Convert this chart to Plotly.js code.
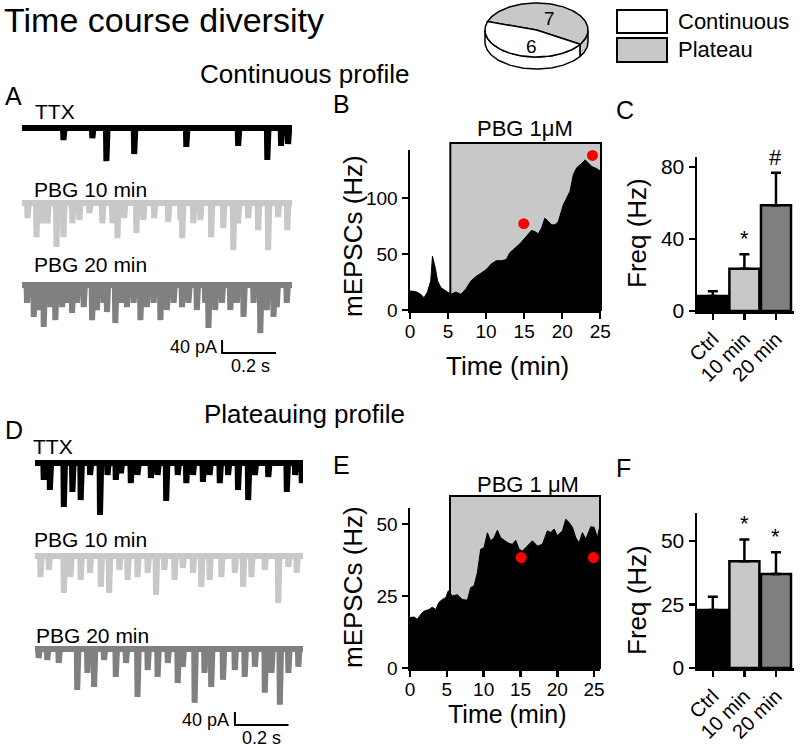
<!DOCTYPE html>
<html><head><meta charset="utf-8">
<script src="https://cdn.plot.ly/plotly-3.0.1.min.js"></script>
<style>html,body{margin:0;padding:0;background:#fff}#chart{width:800px;height:750px}</style>
</head><body><div id="chart"></div>
<script>
// ---------------- DATA ----------------
// Pie: number of cells per time-course profile
const pieLabels = ['Continuous', 'Plateau'];
const pieValues = [6, 7];

// Example sweeps: event times (ms) and amplitudes (pA)
const A_ttx_t  = [152, 259, 311, 414, 607, 799, 907, 958, 984];
const A_ttx_a  = [37, 31, 102, 80, 58, 55, 98, 55, 49];
const A_p10_t  = [19,52,74,93,126,152,185,211,248,296,333,352,377,422,448,488,540,585,592,633,659,699,744,781,799,836,873,910,947,981];
const A_p10_a  = [46,105,62,62,135,105,62,52,31,62,62,108,46,92,52,46,58,52,108,62,52,105,77,145,62,46,83,145,43,83];
const A_p20_t  = [17,42,57,79,104,122,147,165,184,202,227,258,276,301,313,344,369,387,412,437,461,486,511,535,560,591,615,646,677,689,714,739,770,794,819,856,881,905,930,942,979];
const A_p20_a  = [55,98,77,129,68,108,68,55,86,55,68,108,77,55,83,117,55,68,55,108,68,55,108,77,55,68,55,77,55,132,77,55,77,55,98,55,148,77,98,68,55];

const D_ttx_t  = [31,54,106,138,169,204,241,269,300,319,356,381,431,456,488,531,563,588,625,650,688,719,756,794,819,869,938,969,994];
const D_ttx_a  = [52,83,135,89,114,37,160,37,52,31,62,37,46,37,117,37,62,37,58,37,62,37,83,114,37,43,89,37,62];
const D_p10_t  = [19,50,106,131,169,204,244,275,313,344,381,419,450,481,519,550,588,619,650,694,744,775,806,856,906,944,975];
const D_p10_a  = [65,43,114,65,74,52,95,114,43,74,65,52,120,43,74,37,52,95,74,65,52,95,65,43,145,34,52];
const D_p20_t  = [12,44,87,156,194,219,256,300,338,381,419,456,494,531,550,594,631,656,700,744,781,819,856,881,912,944,981];
const D_p20_a  = [28,34,43,126,74,117,34,86,43,148,65,86,43,105,55,166,74,117,95,65,86,55,135,74,172,74,55];

const scaleBarPA = 40;   // pA
const scaleBarMS = 200;  // ms

// Time course of mEPSC frequency
const B_time = [0,0.75,1.41,1.85,2.29,2.73,2.95,3.31,3.62,4.06,4.72,5.38,6.04,6.70,7.36,8.02,8.69,9.35,10.01,10.67,11.33,11.99,12.65,13.1,13.76,14.42,15.08,15.52,15.96,16.4,16.84,17.28,17.72,18.17,18.6,19.05,19.49,20.15,20.59,21.03,21.47,21.91,22.58,23.02,23.46,23.9,24.56,25.0];
const B_rate = [17,16.5,14,11,16,26,48,38,26,20,17,14,16,14,19,26,30,33,36,41,44,44,45,51,55,59,64,68,71,70,68,73,82,79,76,76,79,94,100,106,121,127,131,134,131,128,126,124];
const B_dot_t = [14.95, 23.98];
const B_dot_r = [77, 138];
const B_drugStart = 5.3;

const E_time = [0,0.54,1.0,1.45,1.90,2.58,3.03,3.49,3.94,4.39,4.85,5.21,5.75,6.43,7.11,7.79,8.24,8.70,9.15,9.60,10.05,10.51,10.96,11.41,11.87,12.32,12.91,13.45,13.9,14.36,14.81,15.26,15.94,16.62,17.3,17.98,18.66,19.11,19.57,20.02,20.7,21.15,21.6,22.06,22.51,22.96,23.41,23.87,24.55,25.0,25.45,25.68];
const E_rate = [17.5,17.7,16.9,18.6,19.7,20.3,21.1,20.3,22.8,23.8,24.4,26.8,25.0,25.4,23.8,23.5,27.9,28.5,33.1,41.2,41.7,46.9,44.1,45.2,47.8,45.2,44.1,43.2,42.9,44.3,41.2,40.6,42.3,44.1,42.3,42.9,47.6,47.0,48.2,45.9,47.6,51.6,50.5,48.8,45.2,43.4,47.0,44.7,49.0,48.8,45.2,48.2];
const E_dot_t = [15.1, 24.9];
const E_dot_r = [38.3, 38.3];
const E_drugStart = 5.43;

// Bar summaries
const barCats = ['Ctrl', '10 min', '20 min'];
const C_mean = [8.3, 23.5, 58.7];
const C_sem  = [2.7, 8.0, 18.1];
const C_sig  = ['', '*', '#'];
const F_mean = [22.8, 42.0, 37.0];
const F_sem  = [5.2, 8.6, 8.6];
const F_sig  = ['', '*', '*'];

// ---------------- STYLE / LAYOUT ----------------
const W = 800, H = 750;
const px = x => x / W, py = y => 1 - y / H;
const FONT = 'Liberation Sans, Arial, sans-serif';
const BLACK = '#000', LIGHT = '#c8c8c8', MID = '#808080';

function sweep(times, amps, offset) {
  const x = [0], y = [offset];
  times.forEach((t, i) => {
    x.push(t, t + 1.5, t + 6);
    y.push(offset, offset - amps[i], offset);
  });
  x.push(1000); y.push(offset);
  return {x, y};
}

const traces = [];
function addSweep(times, amps, off, color, xa, ya) {
  const s = sweep(times, amps, off);
  traces.push({x: s.x, y: s.y, xaxis: xa, yaxis: ya, mode: 'lines', type: 'scatter',
    line: {color, width: 6}, hoverinfo: 'skip', showlegend: false});
}
function addScaleBar(bx, by, xa, ya) {
  traces.push({x: [bx, bx, bx + scaleBarMS], y: [by + scaleBarPA, by, by], xaxis: xa, yaxis: ya,
    mode: 'lines', line: {color: BLACK, width: 2}, showlegend: false, hoverinfo: 'skip'});
}

// Panel A sweeps
const offA = [0, -231, -483];
addSweep(A_ttx_t, A_ttx_a, offA[0], BLACK, 'x', 'y');
addSweep(A_p10_t, A_p10_a, offA[1], LIGHT, 'x', 'y');
addSweep(A_p20_t, A_p20_a, offA[2], MID, 'x', 'y');
addScaleBar(741, -692, 'x', 'y');
// Panel D sweeps
const offD = [0, -286, -572];
addSweep(D_ttx_t, D_ttx_a, offD[0], BLACK, 'x4', 'y4');
addSweep(D_p10_t, D_p10_a, offD[1], LIGHT, 'x4', 'y4');
addSweep(D_p20_t, D_p20_a, offD[2], MID, 'x4', 'y4');
addScaleBar(746, -806, 'x4', 'y4');

// Panel B / E time courses
traces.push({x: B_time, y: B_rate, xaxis: 'x2', yaxis: 'y2', mode: 'lines', fill: 'tozeroy',
  fillcolor: BLACK, line: {color: BLACK, width: 1}, showlegend: false});
traces.push({x: B_dot_t, y: B_dot_r, xaxis: 'x2', yaxis: 'y2', mode: 'markers', cliponaxis: false,
  marker: {color: '#ff0000', size: 11}, showlegend: false});
traces.push({x: E_time, y: E_rate, xaxis: 'x5', yaxis: 'y5', mode: 'lines', fill: 'tozeroy',
  fillcolor: BLACK, line: {color: BLACK, width: 1}, showlegend: false});
traces.push({x: E_dot_t, y: E_dot_r, xaxis: 'x5', yaxis: 'y5', mode: 'markers', cliponaxis: false,
  marker: {color: '#ff0000', size: 11}, showlegend: false});

// Panel C / F bars
function addBars(means, sems, xa, ya) {
  traces.push({type: 'bar', x: barCats, y: means, xaxis: xa, yaxis: ya, width: 0.95,
    marker: {color: [BLACK, LIGHT, MID], line: {color: BLACK, width: 2.5}},
    error_y: {type: 'data', symmetric: false, array: sems, arrayminus: sems.map(() => 0),
      color: BLACK, thickness: 2.5, width: 5},
    showlegend: false, hoverinfo: 'skip'});
}
addBars(C_mean, C_sem, 'x3', 'y3');
addBars(F_mean, F_sem, 'x6', 'y6');

// Pie (3-D look) on its own pixel-unit axes
const pie = {cx: 536.5, cy: 30, rx: 51.5, ry: 27, h: 12, start: -32};
const total = pieValues.reduce((a, b) => a + b, 0);
const gStart = pie.start, gEnd = pie.start + 360 * pieValues[1] / total, wEnd = pie.start + 360;
function arc(a0, a1, dy) {
  const xs = [], ys = [], n = Math.max(2, Math.ceil(Math.abs(a1 - a0) / 2));
  for (let i = 0; i <= n; i++) {
    const a = (a0 + (a1 - a0) * i / n) * Math.PI / 180;
    xs.push(pie.cx + pie.rx * Math.cos(a)); ys.push(pie.cy + dy - pie.ry * Math.sin(a));
  }
  return {xs, ys};
}
function sidePoly(a0, a1, color) {
  const t = arc(a0, a1, 0), b = arc(a1, a0, pie.h);
  const xs = t.xs.concat(b.xs, [t.xs[0]]), ys = t.ys.concat(b.ys, [t.ys[0]]);
  traces.push({x: xs, y: ys, xaxis: 'x7', yaxis: 'y7', mode: 'lines', fill: 'toself', fillcolor: color,
    line: {color: BLACK, width: 1.5}, showlegend: false, hoverinfo: 'skip'});
}
function topSlice(a0, a1, color) {
  const t = arc(a0, a1, 0);
  const xs = [pie.cx].concat(t.xs, [pie.cx]), ys = [pie.cy].concat(t.ys, [pie.cy]);
  traces.push({x: xs, y: ys, xaxis: 'x7', yaxis: 'y7', mode: 'lines', fill: 'toself', fillcolor: color,
    line: {color: BLACK, width: 1.5}, showlegend: false, hoverinfo: 'skip'});
}
// visible front side wall spans 180..360 deg
sidePoly(180, wEnd, '#ffffff');
sidePoly(wEnd, 360, LIGHT);
topSlice(gStart, gEnd, LIGHT);
topSlice(gEnd, wEnd, '#ffffff');

const axBase = {showline: true, linecolor: BLACK, linewidth: 2.5, ticks: 'outside', ticklen: 6,
  tickwidth: 2.5, tickcolor: BLACK, showgrid: false, zeroline: false, fixedrange: true,
  tickfont: {family: FONT, size: 19, color: BLACK}};
const barTick = {family: FONT, size: 21, color: BLACK};
const hidden = {visible: false, fixedrange: true, showgrid: false, zeroline: false};

const B_xmax = 25.1, B_ymax = 142.8, E_xmax = 25.8, E_ymax = 55.5;

const layout = {
  width: W, height: H, margin: {l: 0, r: 0, t: 0, b: 0},
  paper_bgcolor: '#fff', plot_bgcolor: 'rgba(0,0,0,0)', showlegend: false,
  font: {family: FONT, color: BLACK},
  bargap: 0,
  xaxis:  {...hidden, domain: [px(22), px(292)], range: [0, 1000], anchor: 'y'},
  yaxis:  {...hidden, domain: [py(365), py(95)], range: [-729, 101.5], anchor: 'x'},
  xaxis4: {...hidden, domain: [px(35), px(303)], range: [0, 1000], anchor: 'y4'},
  yaxis4: {...hidden, domain: [py(745), py(430)], range: [-867.7, 101.5], anchor: 'x4'},
  xaxis2: {...axBase, domain: [px(410), px(601)], range: [0, B_xmax], dtick: 5, tick0: 0, ticklabelstandoff: -3, anchor: 'y2'},
  yaxis2: {...axBase, domain: [py(310), py(150)], range: [0, B_ymax], dtick: 50, anchor: 'x2'},
  xaxis5: {...axBase, domain: [px(410), px(600)], range: [0, E_xmax], dtick: 5, tick0: 0, ticklabelstandoff: -3, anchor: 'y5'},
  yaxis5: {...axBase, domain: [py(668), py(508)], range: [0, E_ymax], dtick: 25, anchor: 'x5'},
  xaxis3: {...axBase, type: 'category', domain: [px(697), px(794)], range: [-0.5, 2.57], tickangle: -45,
    tickfont: {family: FONT, size: 20, color: BLACK}, anchor: 'y3'},
  yaxis3: {...axBase, domain: [py(311), py(157)], range: [0, 85.5], dtick: 40, tickfont: barTick, anchor: 'x3'},
  xaxis6: {...axBase, type: 'category', domain: [px(697), px(794)], range: [-0.5, 2.57], tickangle: -45,
    tickfont: {family: FONT, size: 20, color: BLACK}, anchor: 'y6'},
  yaxis6: {...axBase, domain: [py(668), py(513)], range: [0, 61], dtick: 25, tickfont: barTick, anchor: 'x6'},
  xaxis7: {...hidden, domain: [px(478), px(598)], range: [478, 598], anchor: 'y7'},
  yaxis7: {...hidden, domain: [py(72), py(0)], range: [72, 0], anchor: 'x7'},
  shapes: [
    {type: 'rect', xref: 'x2 domain', yref: 'y2 domain', x0: B_drugStart / B_xmax, x1: 1, y0: 0, y1: 149 / B_ymax,
      fillcolor: LIGHT, line: {color: BLACK, width: 2}, layer: 'below'},
    {type: 'rect', xref: 'x5 domain', yref: 'y5 domain', x0: E_drugStart / E_xmax, x1: 1, y0: 0, y1: 59.7 / E_ymax,
      fillcolor: LIGHT, line: {color: BLACK, width: 2}, layer: 'below'},
    {type: 'rect', xref: 'paper', yref: 'paper', x0: px(617), x1: px(667), y0: py(33), y1: py(10),
      fillcolor: '#ffffff', line: {color: BLACK, width: 2}},
    {type: 'rect', xref: 'paper', yref: 'paper', x0: px(617), x1: px(667), y0: py(62), y1: py(38),
      fillcolor: LIGHT, line: {color: BLACK, width: 2}}
  ],
  annotations: []
};

const ann = layout.annotations;
function T(text, x, y, size, opts) {
  ann.push(Object.assign({text, x: px(x), y: py(y), xref: 'paper', yref: 'paper', showarrow: false,
    font: {family: FONT, size, color: BLACK}, xanchor: 'center', yanchor: 'middle'}, opts || {}));
}
T('Time course diversity', 2, 20, 34, {xanchor: 'left'});
T('Continuous profile', 305, 74, 26);
T('Plateauing profile', 304, 414, 26);
T('A', 3, 96, 25, {xanchor: 'left'});
T('B', 331, 104, 25, {xanchor: 'left'});
T('C', 614, 110, 25, {xanchor: 'left'});
T('D', 3, 430, 25, {xanchor: 'left'});
T('E', 331, 465, 25, {xanchor: 'left'});
T('F', 614, 468, 25, {xanchor: 'left'});
// sweep labels
T('TTX', 33, 112, 21, {xanchor: 'left'});
T('PBG 10 min', 32, 189, 21, {xanchor: 'left'});
T('PBG 20 min', 32, 265, 21, {xanchor: 'left'});
T('40 pA', 219, 347, 18, {xanchor: 'right'});
T('0.2 s', 250, 366, 18);
T('TTX', 31, 446, 21, {xanchor: 'left'});
T('PBG 10 min', 32, 539, 21, {xanchor: 'left'});
T('PBG 20 min', 34, 635, 21, {xanchor: 'left'});
T('40 pA', 231, 720, 18, {xanchor: 'right'});
T('0.2 s', 261, 738, 18);
// time-course panels
T('mEPSCs (Hz)', 353, 236, 26, {textangle: -90});
T('Time (min)', 507, 366, 26);
T('PBG 1\u03bcM', 525, 129, 22);
T('mEPSCs (Hz)', 353, 587, 26, {textangle: -90});
T('Time (min)', 507, 714, 25);
T('PBG 1 \u03bcM', 528, 484, 22);
// bar panels
T('Freq (Hz)', 637, 233, 26, {textangle: -90});
T('Freq (Hz)', 637, 600, 26, {textangle: -90});
// pie labels and legend
T(String(pieValues[1]), 549, 18, 19);
T(String(pieValues[0]), 531, 46, 19);
T(pieLabels[0], 676, 22, 22, {xanchor: 'left'});
T(pieLabels[1], 676, 50, 22, {xanchor: 'left'});

// significance marks
function sig(marks, means, sems, xa, ya) {
  marks.forEach((m, i) => {
    if (!m) return;
    ann.push({text: m, x: barCats[i], y: means[i] + sems[i], xref: xa, yref: ya, showarrow: false,
      yanchor: 'bottom', yshift: 1, font: {family: FONT, size: 22, color: BLACK}});
  });
}
sig(C_sig, C_mean, C_sem, 'x3', 'y3');
sig(F_sig, F_mean, F_sem, 'x6', 'y6');

Plotly.newPlot('chart', traces, layout, {staticPlot: true, displayModeBar: false});
</script>
</body></html>
